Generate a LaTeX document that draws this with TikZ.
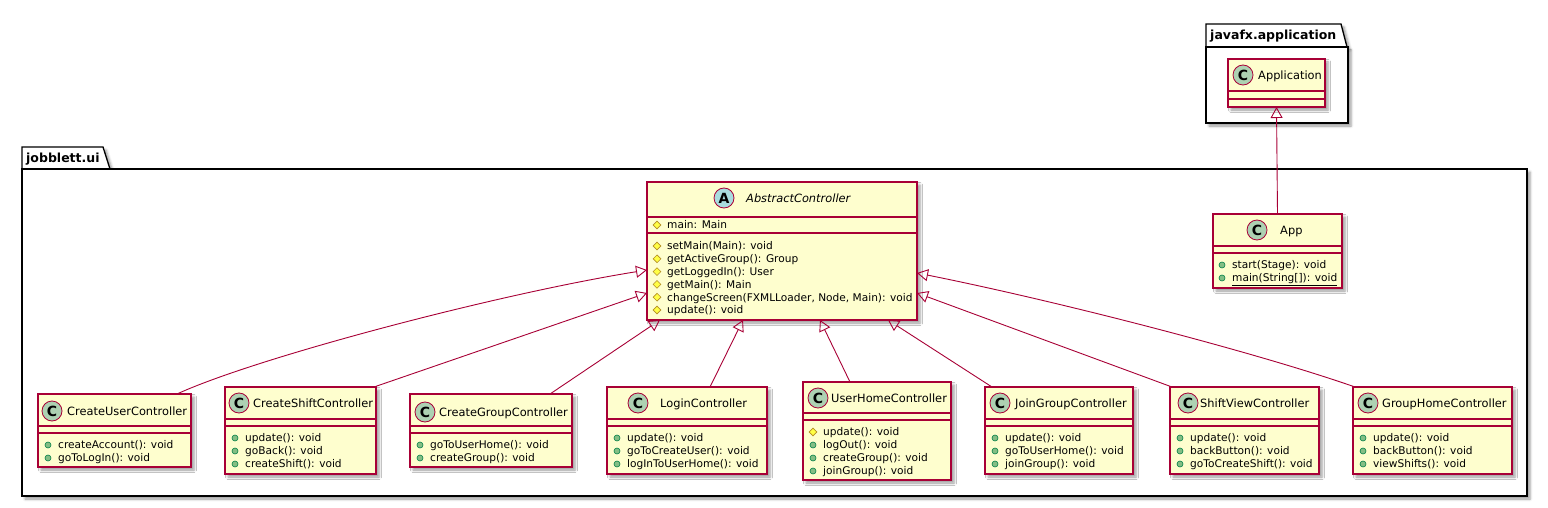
\documentclass[tikz,border=0pt]{standalone}
\usepackage{fontspec}
\setmainfont{DejaVu Sans}
\usetikzlibrary{arrows.meta,shapes.geometric,shadows.blur,calc}
\definecolor{umlred}{HTML}{A80036}
\definecolor{umlfill}{HTML}{FEFECE}
\definecolor{cgreen}{HTML}{ADD1B2}
\definecolor{ablue}{HTML}{A9DCDF}
\definecolor{pubfill}{HTML}{84BE84}
\definecolor{pubdraw}{HTML}{038048}
\definecolor{protfill}{HTML}{FFFF44}
\definecolor{protdraw}{HTML}{B38D22}
\newcommand{\umlbox}[7]{%
  \node[classbox, minimum width={#4-#2}, minimum height={#5-#3}] (#1) at ({(#2+#4)/2},{(#3+#5)/2}) {};
  \draw[sepline] (#2,#6) -- (#4,#6);
  \draw[sepline] (#2,#7) -- (#4,#7);
}
\newcommand{\pubm}[3]{\node[pub] at (#1-10,#2) {}; \node[mem] at (#1,#2) {#3};}
\newcommand{\protm}[3]{\node[prot] at (#1-10,#2) {}; \node[mem] at (#1,#2) {#3};}
\begin{document}
\begin{tikzpicture}[x=1pt,y=-1pt,
  dropsh/.style={blur shadow={shadow xshift=3pt,shadow yshift=-3pt,shadow blur radius=2.5pt,shadow opacity=40}},
  classbox/.style={draw=umlred, fill=umlfill, line width=1.1pt, rectangle, inner sep=0pt, outer sep=0pt, dropsh},
  sepline/.style={draw=umlred, line width=1.1pt},
  pkg/.style={draw=black, fill=white, line width=1.3pt, line join=miter, dropsh},
  icon/.style={circle, draw=umlred, line width=0.8pt, minimum size=20pt, inner sep=0pt, font=\fontsize{14}{14}\selectfont\bfseries},
  cname/.style={anchor=west, inner sep=0pt, font=\fontsize{11.4}{13}\selectfont, text height=8.4pt, text depth=0pt},
  mem/.style={anchor=west, inner sep=0pt, font=\fontsize{10.6}{12}\selectfont, text height=7.8pt, text depth=0pt},
  pub/.style={circle, draw=pubdraw, fill=pubfill, line width=0.6pt, minimum size=6pt, inner sep=0pt},
  prot/.style={diamond, draw=protdraw, fill=protfill, line width=0.6pt, minimum size=8pt, inner sep=0pt},
  ext/.style={draw=umlred, line width=0.9pt, -{Triangle[open,length=11pt,width=12pt]}},
  plabel/.style={anchor=west, inner sep=0pt, font=\fontsize{12.5}{14}\selectfont\bfseries, text height=9pt, text depth=0pt}
]
\path[use as bounding box] (0,0) rectangle (1548,508);

% packages
\path[pkg] (22,169) -- (22,147) -- (103,147) -- (110,169) -- cycle;
\path[pkg] (22,169) rectangle (1527,496);
\node[plabel] (pui) at (26,158) {jobblett.ui};

\path[pkg] (1206,47) -- (1206,24) -- (1341,24) -- (1347,47) -- cycle;
\path[pkg] (1206,47) rectangle (1348,123);
\node[plabel] (pfx) at (1210,35) {javafx.application};

% Application
\umlbox{application}{1228}{59}{1325}{107}{91}{99}
\node[icon, fill=cgreen] (iapplication) at (1243,75) {C};
\node[cname] (napplication) at (1258,75) {Application};

% App
\umlbox{app}{1213}{214}{1342}{288}{246}{253}
\node[icon, fill=cgreen] (iapp) at (1257,230) {C};
\node[cname] (napp) at (1280,230) {App};
\pubm{1232}{265}{start(Stage): void}
\pubm{1232}{278}{\underline{main(String[]): void}}

% AbstractController
\umlbox{ac}{647}{182}{917}{320}{217}{233}
\node[icon, fill=ablue] (iac) at (724,198) {A};
\node[cname] (nac) at (746,198) {\itshape AbstractController};
\protm{667}{225}{main: Main}
\protm{667}{246}{setMain(Main): void}
\protm{667}{258.8}{getActiveGroup(): Group}
\protm{667}{271.6}{getLoggedIn(): User}
\protm{667}{284.4}{getMain(): Main}
\protm{667}{297.2}{changeScreen(FXMLLoader, Node, Main): void}
\protm{667}{310}{update(): void}

% CreateUserController
\umlbox{cu}{38}{394}{191}{467}{426}{433}
\node[icon, fill=cgreen] (icu) at (52,411) {C};
\node[cname] (ncu) at (67,411) {CreateUserController};
\pubm{58}{445}{createAccount(): void}
\pubm{58}{458}{goToLogIn(): void}

% CreateShiftController
\umlbox{cs}{225}{387}{376}{474}{419}{426}
\node[icon, fill=cgreen] (ics) at (239,403) {C};
\node[cname] (ncs) at (253,403) {CreateShiftController};
\pubm{245}{438}{update(): void}
\pubm{245}{451}{goBack(): void}
\pubm{245}{464}{createShift(): void}

% CreateGroupController
\umlbox{cg}{410}{394}{572}{467}{426}{433}
\node[icon, fill=cgreen] (icg) at (425,412) {C};
\node[cname] (ncg) at (439,412) {CreateGroupController};
\pubm{430}{445}{goToUserHome(): void}
\pubm{430}{458}{createGroup(): void}

% LoginController
\umlbox{lc}{607}{387}{767}{474}{419}{426}
\node[icon, fill=cgreen] (ilc) at (638,403) {C};
\node[cname] (nlc) at (660,403) {LoginController};
\pubm{627}{438}{update(): void}
\pubm{627}{451}{goToCreateUser(): void}
\pubm{627}{464}{logInToUserHome(): void}

% UserHomeController
\umlbox{uh}{803}{382}{951}{480}{413}{420}
\node[icon, fill=cgreen] (iuh) at (818,398) {C};
\node[cname] (nuh) at (831,398) {UserHomeController};
\protm{823}{432}{update(): void}
\pubm{823}{445}{logOut(): void}
\pubm{823}{458}{createGroup(): void}
\pubm{823}{471}{joinGroup(): void}

% JoinGroupController
\umlbox{jg}{985}{387}{1133}{474}{419}{426}
\node[icon, fill=cgreen] (ijg) at (1000,403) {C};
\node[cname] (njg) at (1015,403) {JoinGroupController};
\pubm{1005}{438}{update(): void}
\pubm{1005}{451}{goToUserHome(): void}
\pubm{1005}{464}{joinGroup(): void}

% ShiftViewController
\umlbox{sv}{1170}{387}{1319}{474}{419}{426}
\node[icon, fill=cgreen] (isv) at (1188,403) {C};
\node[cname] (nsv) at (1200,403) {ShiftViewController};
\pubm{1190}{438}{update(): void}
\pubm{1190}{451}{backButton(): void}
\pubm{1190}{464}{goToCreateShift(): void}

% GroupHomeController
\umlbox{gh}{1353}{387}{1512}{474}{419}{426}
\node[icon, fill=cgreen] (igh) at (1368,403) {C};
\node[cname] (ngh) at (1382,403) {GroupHomeController};
\pubm{1373}{438}{update(): void}
\pubm{1373}{451}{backButton(): void}
\pubm{1373}{464}{viewShifts(): void}

% generalisations
\draw[ext] (app.north) -- (application.south);
\draw[ext] ($(cu.north west)+(139,0)$) .. controls +(78,-36) and +(-150,24) .. ($(ac.south west)+(0,-50)$);
\draw[ext] ($(cs.north east)+(-2,0)$) -- ($(ac.south west)+(0,-27)$);
\draw[ext] ($(cg.north east)+(-22,0)$) -- ($(ac.south west)+(13,0)$);
\draw[ext] ($(lc.north west)+(103,0)$) -- ($(ac.south west)+(96,0)$);
\draw[ext] ($(uh.north west)+(47,0)$) -- ($(ac.south west)+(173,0)$);
\draw[ext] ($(jg.north west)+(7,0)$) -- ($(ac.south west)+(241,0)$);
\draw[ext] ($(sv.north west)+(2,0)$) -- ($(ac.south east)+(0,-27)$);
\draw[ext] ($(gh.north west)+(2,0)$) .. controls +(-100,-35) and +(140,28) .. ($(ac.south east)+(0,-47)$);
\end{tikzpicture}
\end{document}
